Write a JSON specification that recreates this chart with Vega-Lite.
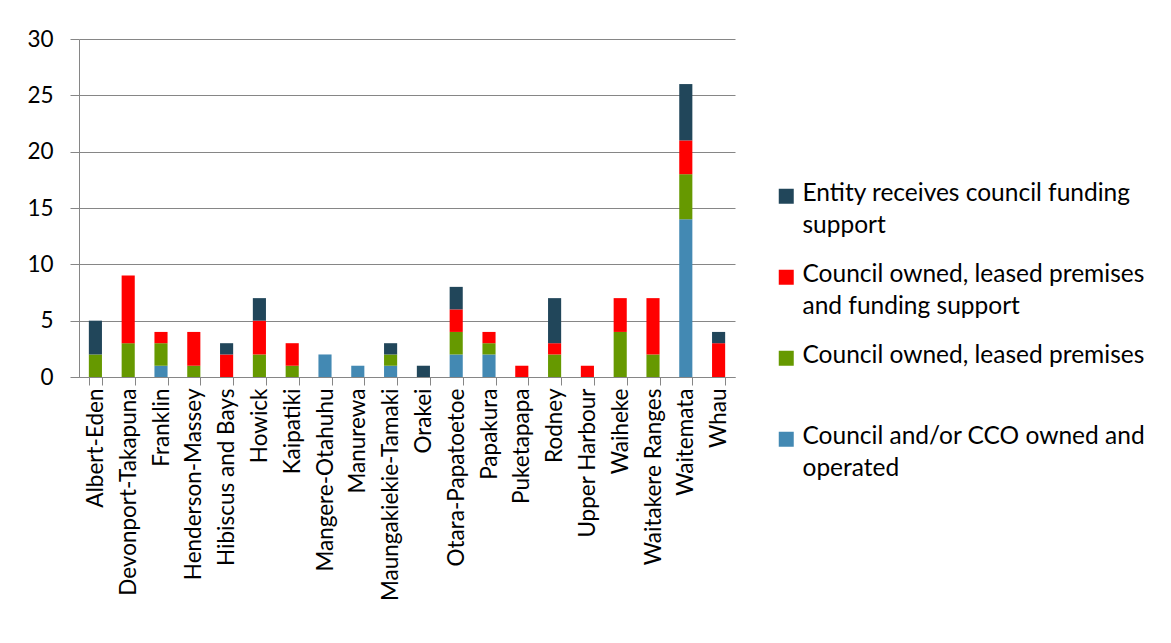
{
  "$schema": "https://vega.github.io/schema/vega-lite/v6.json",
  "autosize": {"type": "none"},
  "width": 656,
  "height": 338,
  "padding": {"left": 79, "top": 39, "right": 436, "bottom": 266},
  "background": "white",
  "config": {
    "view": {"stroke": null},
    "font": "Lato",
    "axis": {"labelFont": "Lato", "labelColor": "#000000", "domainColor": "#868686", "tickColor": "#868686", "gridColor": "#868686"},
    "legend": {"labelFont": "Lato"}
  },
  "data": {
    "values": [
      {"area": "Albert-Eden", "type": "Council owned, leased premises", "count": 2},
      {"area": "Albert-Eden", "type": "Entity receives council funding support", "count": 3},
      {"area": "Devonport-Takapuna", "type": "Council owned, leased premises", "count": 3},
      {"area": "Devonport-Takapuna", "type": "Council owned, leased premises and funding support", "count": 6},
      {"area": "Franklin", "type": "Council and/or CCO owned and operated", "count": 1},
      {"area": "Franklin", "type": "Council owned, leased premises", "count": 2},
      {"area": "Franklin", "type": "Council owned, leased premises and funding support", "count": 1},
      {"area": "Henderson-Massey", "type": "Council owned, leased premises", "count": 1},
      {"area": "Henderson-Massey", "type": "Council owned, leased premises and funding support", "count": 3},
      {"area": "Hibiscus and Bays", "type": "Council owned, leased premises and funding support", "count": 2},
      {"area": "Hibiscus and Bays", "type": "Entity receives council funding support", "count": 1},
      {"area": "Howick", "type": "Council owned, leased premises", "count": 2},
      {"area": "Howick", "type": "Council owned, leased premises and funding support", "count": 3},
      {"area": "Howick", "type": "Entity receives council funding support", "count": 2},
      {"area": "Kaipatiki", "type": "Council owned, leased premises", "count": 1},
      {"area": "Kaipatiki", "type": "Council owned, leased premises and funding support", "count": 2},
      {"area": "Mangere-Otahuhu", "type": "Council and/or CCO owned and operated", "count": 2},
      {"area": "Manurewa", "type": "Council and/or CCO owned and operated", "count": 1},
      {"area": "Maungakiekie-Tamaki", "type": "Council and/or CCO owned and operated", "count": 1},
      {"area": "Maungakiekie-Tamaki", "type": "Council owned, leased premises", "count": 1},
      {"area": "Maungakiekie-Tamaki", "type": "Entity receives council funding support", "count": 1},
      {"area": "Orakei", "type": "Entity receives council funding support", "count": 1},
      {"area": "Otara-Papatoetoe", "type": "Council and/or CCO owned and operated", "count": 2},
      {"area": "Otara-Papatoetoe", "type": "Council owned, leased premises", "count": 2},
      {"area": "Otara-Papatoetoe", "type": "Council owned, leased premises and funding support", "count": 2},
      {"area": "Otara-Papatoetoe", "type": "Entity receives council funding support", "count": 2},
      {"area": "Papakura", "type": "Council and/or CCO owned and operated", "count": 2},
      {"area": "Papakura", "type": "Council owned, leased premises", "count": 1},
      {"area": "Papakura", "type": "Council owned, leased premises and funding support", "count": 1},
      {"area": "Puketapapa", "type": "Council owned, leased premises and funding support", "count": 1},
      {"area": "Rodney", "type": "Council owned, leased premises", "count": 2},
      {"area": "Rodney", "type": "Council owned, leased premises and funding support", "count": 1},
      {"area": "Rodney", "type": "Entity receives council funding support", "count": 4},
      {"area": "Upper Harbour", "type": "Council owned, leased premises and funding support", "count": 1},
      {"area": "Waiheke", "type": "Council owned, leased premises", "count": 4},
      {"area": "Waiheke", "type": "Council owned, leased premises and funding support", "count": 3},
      {"area": "Waitakere Ranges", "type": "Council owned, leased premises", "count": 2},
      {"area": "Waitakere Ranges", "type": "Council owned, leased premises and funding support", "count": 5},
      {"area": "Waitemata", "type": "Council and/or CCO owned and operated", "count": 14},
      {"area": "Waitemata", "type": "Council owned, leased premises", "count": 4},
      {"area": "Waitemata", "type": "Council owned, leased premises and funding support", "count": 3},
      {"area": "Waitemata", "type": "Entity receives council funding support", "count": 5},
      {"area": "Whau", "type": "Council owned, leased premises and funding support", "count": 3},
      {"area": "Whau", "type": "Entity receives council funding support", "count": 1}
    ]
  },
  "mark": {"type": "bar"},
  "encoding": {
    "x": {
      "field": "area",
      "type": "nominal",
      "sort": null,
      "scale": {"paddingInner": 0.6, "paddingOuter": 0.3},
      "axis": {
        "title": null,
        "labelAngle": -90,
        "labelAlign": "right",
        "labelBaseline": "middle",
        "labelFontSize": 22.5,
        "labelPadding": 3,
        "tickBand": "extent",
        "tickSize": 8,
        "labelOverlap": false,
        "labelLimit": 300
      }
    },
    "y": {
      "field": "count",
      "type": "quantitative",
      "stack": "zero",
      "scale": {"domain": [0, 30], "nice": false},
      "axis": {
        "title": null,
        "values": [0, 5, 10, 15, 20, 25, 30],
        "labelFontSize": 22.5,
        "tickSize": 9,
        "labelPadding": 17,
        "grid": true
      }
    },
    "order": {"field": "type", "sort": "ascending"},
    "color": {
      "field": "type",
      "type": "nominal",
      "scale": {
        "domain": [
          "Entity receives council funding support",
          "Council owned, leased premises and funding support",
          "Council owned, leased premises",
          "Council and/or CCO owned and operated"
        ],
        "range": ["#21465A", "#FF0000", "#669900", "#4389B3"]
      },
      "legend": {
        "title": null,
        "orient": "none",
        "legendX": 695,
        "legendY": 145,
        "symbolType": "square",
        "symbolSize": 225,
        "symbolStrokeWidth": 0,
        "labelFontSize": 24.5,
        "labelLimit": 500,
        "labelOffset": 4,
        "rowPadding": 24,
        "labelBaseline": "top",
        "labelExpr": "datum.label == 'Entity receives council funding support' ? ['Entity receives council funding', 'support'] : datum.label == 'Council owned, leased premises and funding support' ? ['Council owned, leased premises', 'and funding support'] : datum.label == 'Council owned, leased premises' ? ['Council owned, leased premises', ' '] : ['Council and/or CCO owned and', 'operated']",
        "encode": {"labels": {"update": {"lineHeight": {"value": 32}, "dy": {"value": -14}}}}
      }
    }
  }
}
